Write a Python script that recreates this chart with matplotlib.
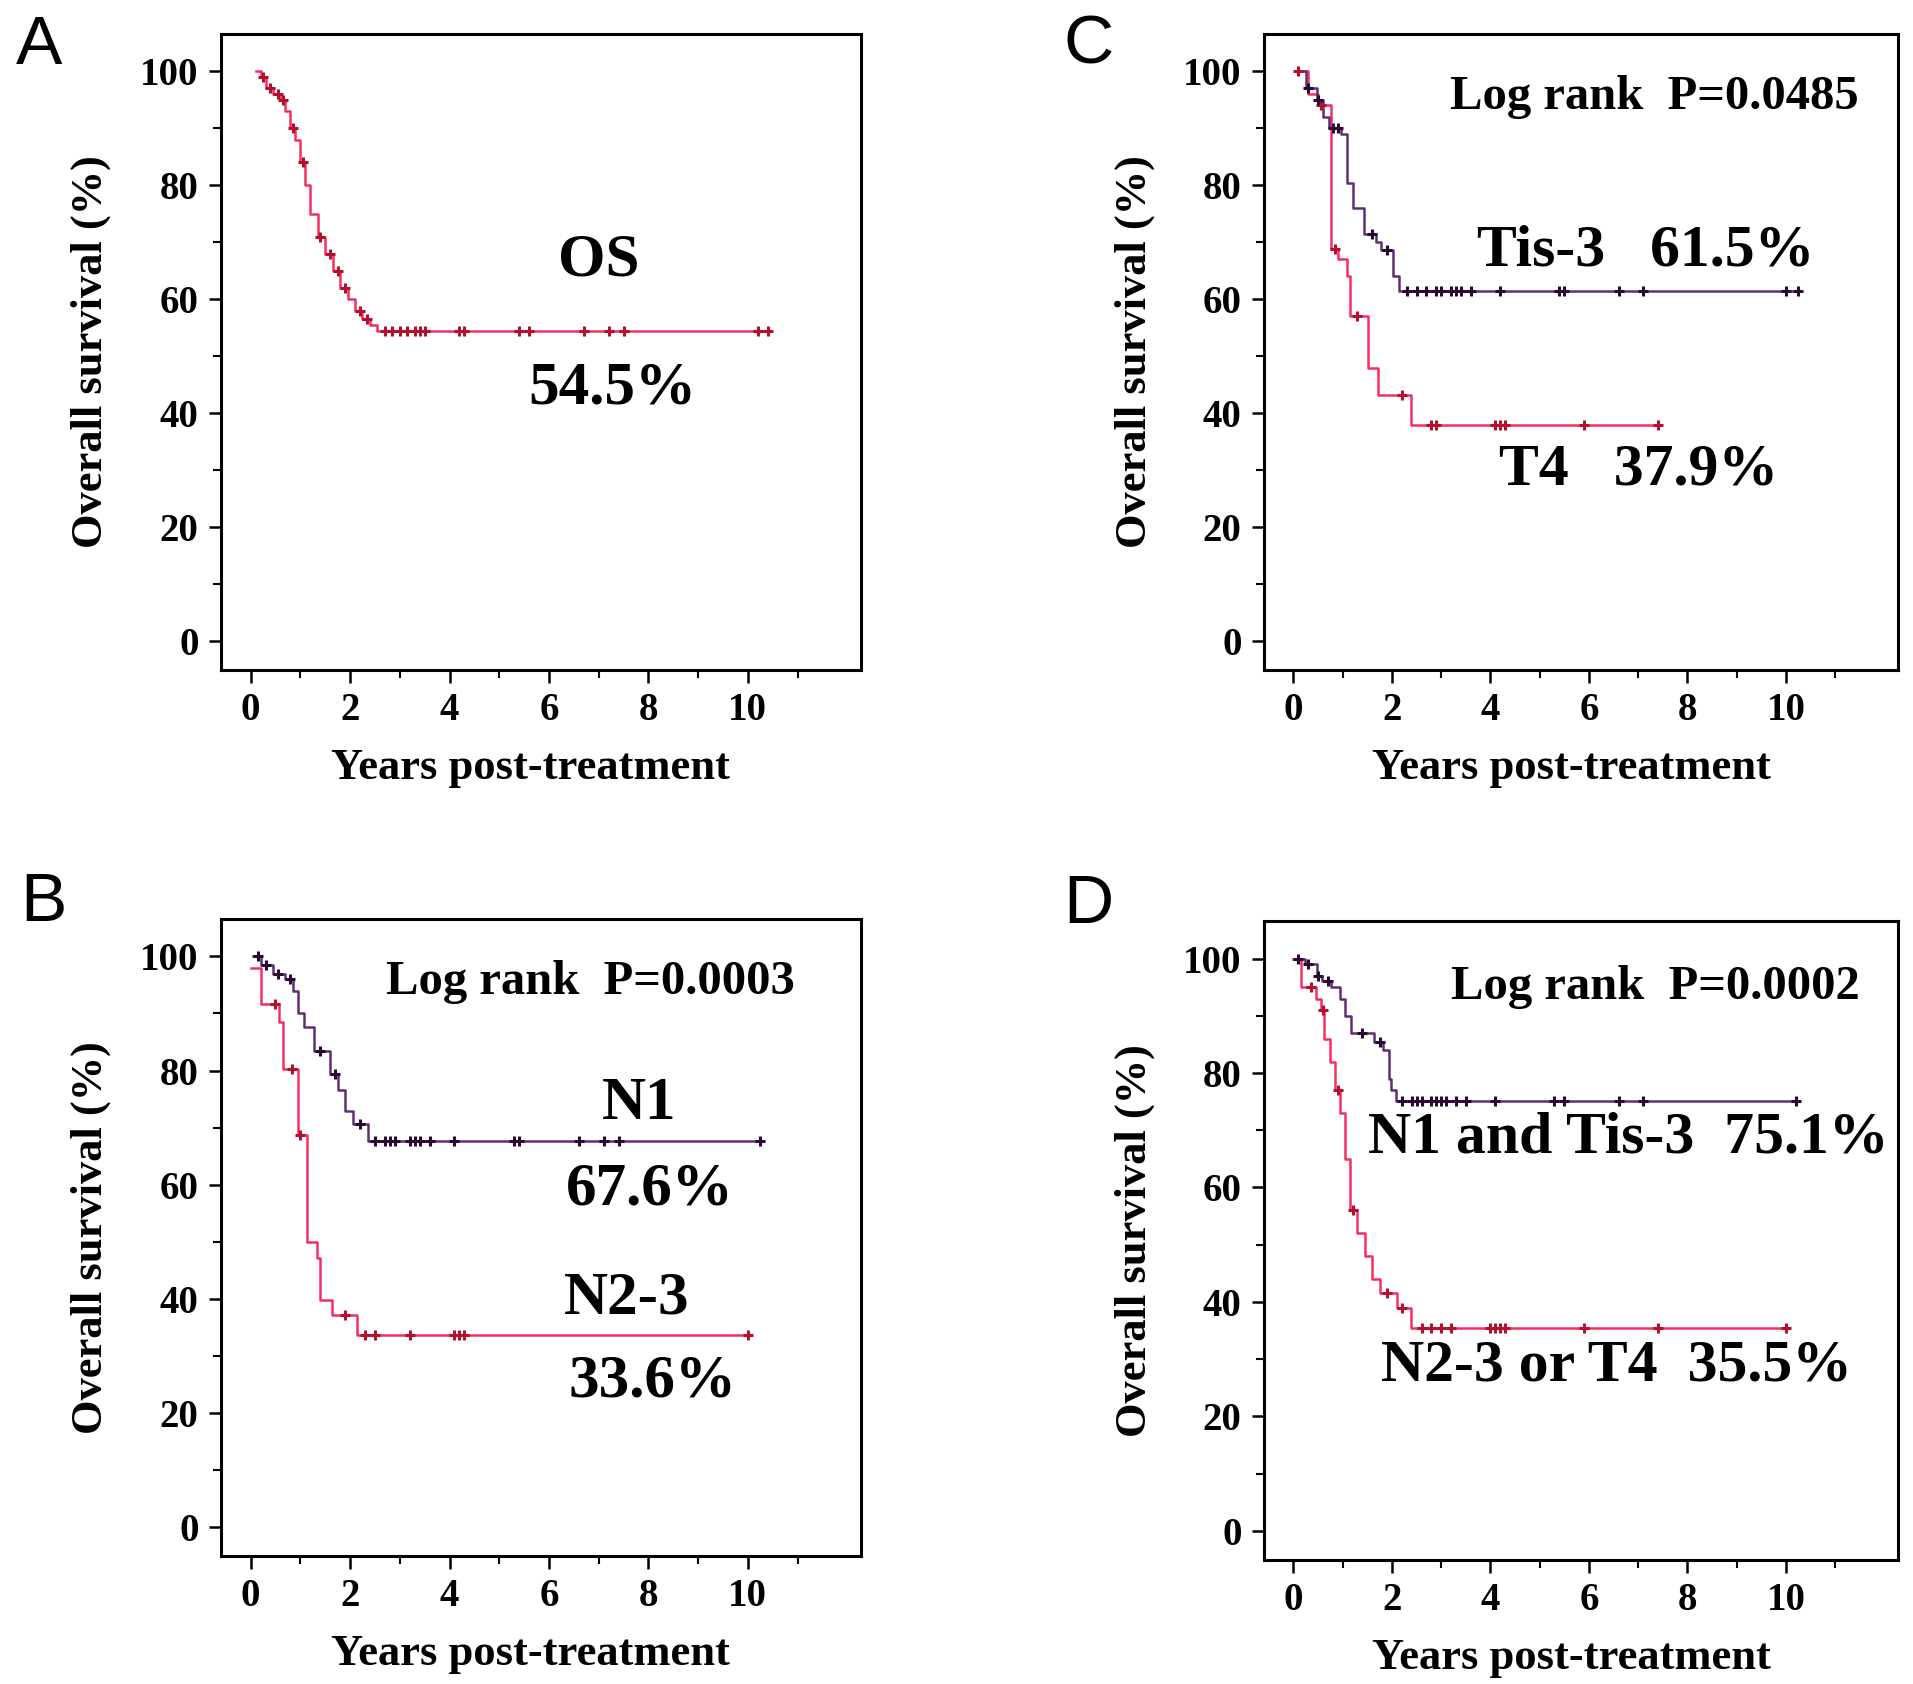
import matplotlib
matplotlib.use("Agg")
import matplotlib.pyplot as plt
import numpy as np
from matplotlib.ticker import MultipleLocator

plt.rcParams['font.family'] = ['Liberation Serif', 'DejaVu Serif']

# ---- data (years, survival %) ----
# A: overall survival
a_time = [0.1, 0.2, 0.3, 0.45, 0.6, 0.7, 0.8, 0.9, 1.0, 1.1, 1.2, 1.35, 1.5, 1.65, 1.8, 1.95, 2.1, 2.25, 2.4, 2.55, 10.4]
a_surv = [100, 99, 97, 96, 95, 93, 90, 88, 84, 80, 75, 71, 68, 65, 62, 60, 58, 56.5, 55.5, 54.5, 54.5]
a_cens = [0.25, 0.4, 0.55, 0.65, 0.85, 1.05, 1.4, 1.6, 1.75, 1.9, 2.2, 2.35, 2.7, 2.85, 3.0, 3.15, 3.3, 3.4, 3.5,
          4.2, 4.3, 5.4, 5.6, 6.7, 7.2, 7.5, 10.2, 10.4]

# B: N1 vs N2-3
b1_time = [0.05, 0.2, 0.45, 0.7, 0.85, 0.96, 1.08, 1.27, 1.6, 1.75, 1.9, 2.05, 2.37, 10.25]
b1_surv = [100, 98.5, 97, 96, 94, 90, 87.6, 83.5, 79.4, 76.6, 72.9, 70.6, 67.6, 67.6]
b1_cens = [0.15, 0.3, 0.55, 0.8, 1.4, 1.7, 2.2, 2.5, 2.7, 2.8, 2.9, 3.2, 3.3, 3.4, 3.6, 4.1, 5.3, 5.4, 6.6, 7.1, 7.4, 10.25]
b2_time = [0.0, 0.2, 0.57, 0.65, 0.96, 1.14, 1.33, 1.39, 1.64, 2.13, 10.0]
b2_surv = [98, 91.7, 88.5, 80.3, 68.8, 50, 47.2, 39.9, 37.2, 33.6, 33.6]
b2_cens = [0.5, 0.84, 1.0, 1.9, 2.3, 2.5, 3.2, 4.1, 4.2, 4.3, 10.0]

# C: Tis-3 vs T4
c1_time = [0.05, 0.25, 0.47, 0.6, 0.73, 0.96, 1.08, 1.2, 1.43, 1.67, 1.78, 2.02, 2.14, 10.25]
c1_surv = [100, 97, 95, 92, 90, 89, 80.4, 76, 71.4, 70, 68.7, 64, 61.5, 61.5]
c1_cens = [0.3, 0.5, 0.8, 0.9, 1.6, 1.9, 2.3, 2.5, 2.7, 2.9, 3.0, 3.2, 3.3, 3.4, 3.6, 4.2, 5.4, 5.5, 6.6, 7.1, 10.0, 10.25]
c2_time = [0.05, 0.3, 0.5, 0.76, 0.9, 1.08, 1.14, 1.51, 1.72, 2.39, 7.42]
c2_surv = [100, 96, 94, 68.75, 67, 64, 57, 48, 43.3, 37.9, 37.9]
c2_cens = [0.1, 0.55, 0.85, 1.3, 2.2, 2.8, 2.9, 4.1, 4.2, 4.3, 5.9, 7.4]

# D: N1 and Tis-3 vs N2-3 or T4
d1_time = [0.04, 0.23, 0.47, 0.58, 0.76, 0.94, 1.05, 1.17, 1.64, 1.81, 1.93, 1.99, 2.08, 10.23]
d1_surv = [100, 99, 97, 96, 95, 93, 90, 87, 85.5, 84, 79, 77, 75.1, 75.1]
d1_cens = [0.1, 0.3, 0.5, 0.7, 1.4, 1.75, 2.2, 2.4, 2.5, 2.6, 2.8, 2.9, 3.0, 3.1, 3.3, 3.5, 4.1, 5.3, 5.5, 6.6, 7.1, 10.2]
d2_time = [0.0, 0.15, 0.45, 0.55, 0.62, 0.75, 0.85, 0.95, 1.05, 1.15, 1.3, 1.45, 1.6, 1.75, 2.1, 2.38, 10.0]
d2_surv = [100, 95, 93, 91, 86, 82, 77, 73, 65, 56, 52, 48, 44, 41.5, 39, 35.5, 35.5]
d2_cens = [0.35, 0.6, 0.9, 1.2, 1.9, 2.2, 2.6, 2.8, 3.0, 3.2, 4.0, 4.1, 4.2, 4.3, 5.9, 7.4, 10.0]

RED = '#f72d62'
RED_M = '#b3102e'
PUR = '#5e2f72'
PUR_M = '#2a0a30'


def surv_at(times, surv, t):
    i = np.searchsorted(times, t, side='right') - 1
    i = min(max(i, 0), len(surv) - 1)
    return surv[i]


def draw_curve(ax, times, surv, cens, color, mcolor):
    ax.step(times, surv, where='post', color=color, lw=1.8, zorder=3)
    ys = [surv_at(times, surv, t) for t in cens]
    ax.plot(cens, ys, ls='none', marker='+', ms=7, mew=2.2, color=mcolor, zorder=4)


def style_axes(ax):
    ax.set_xlim(-0.6, 12.28)
    ax.set_ylim(-5, 106.5)
    ax.set_xticks([0, 2, 4, 6, 8, 10])
    ax.xaxis.set_minor_locator(plt.FixedLocator([1, 3, 5, 7, 9, 11]))
    ax.set_yticks([0, 20, 40, 60, 80, 100])
    ax.yaxis.set_minor_locator(plt.FixedLocator([10, 30, 50, 70, 90]))
    ax.tick_params(which='major', direction='out', length=9, width=1.8, labelsize=28, pad=7)
    ax.tick_params(which='minor', direction='out', length=6, width=1.5)
    for lab in ax.get_xticklabels() + ax.get_yticklabels():
        lab.set_fontweight('bold')
    for sp in ax.spines.values():
        sp.set_linewidth(2.2)
    ax.set_xlabel('Years post-treatment', fontsize=32, fontweight='bold', va='center')
    ax.xaxis.set_label_coords(0.484, -0.154)
    ax.set_ylabel('Overall survival (%)', fontsize=32, fontweight='bold', va='center')
    ax.yaxis.set_label_coords(-0.203, 0.5)


fig = plt.figure(figsize=(19.13, 16.84), dpi=100)
axA = fig.add_axes([0.1154, 0.6022, 0.3348, 0.3775])
axC = fig.add_axes([0.6607, 0.6022, 0.3316, 0.3775])
axB = fig.add_axes([0.1154, 0.0761, 0.3348, 0.3780])
axD = fig.add_axes([0.6607, 0.0739, 0.3316, 0.3790])

for ax in (axA, axB, axC, axD):
    style_axes(ax)

# A
draw_curve(axA, a_time, a_surv, a_cens, RED, RED_M)
axA.text(7.0, 66.8, 'OS', fontsize=44, fontweight='bold', ha='center', va='center')
axA.text(7.27, 44.3, '54.5%', fontsize=44, fontweight='bold', ha='center', va='center')

# B
draw_curve(axB, b2_time, b2_surv, b2_cens, RED, RED_M)
draw_curve(axB, b1_time, b1_surv, b1_cens, PUR, PUR_M)
axB.text(6.83, 95.5, 'Log rank  P=0.0003', fontsize=35, fontweight='bold', ha='center', va='center')
axB.text(7.81, 74.1, 'N1', fontsize=44, fontweight='bold', ha='center', va='center')
axB.text(8.03, 59.2, '67.6%', fontsize=44, fontweight='bold', ha='center', va='center')
axB.text(7.57, 40.0, 'N2-3', fontsize=44, fontweight='bold', ha='center', va='center')
axB.text(8.08, 25.6, '33.6%', fontsize=44, fontweight='bold', ha='center', va='center')

# C
draw_curve(axC, c2_time, c2_surv, c2_cens, RED, RED_M)
draw_curve(axC, c1_time, c1_surv, c1_cens, PUR, PUR_M)
axC.text(7.33, 95.5, 'Log rank  P=0.0485', fontsize=35, fontweight='bold', ha='center', va='center')
axC.text(7.16, 68.4, 'Tis-3   61.5%', fontsize=43, fontweight='bold', ha='center', va='center')
axC.text(7.0, 29.9, 'T4   37.9%', fontsize=43, fontweight='bold', ha='center', va='center')

# D
draw_curve(axD, d2_time, d2_surv, d2_cens, RED, RED_M)
draw_curve(axD, d1_time, d1_surv, d1_cens, PUR, PUR_M)
axD.text(7.35, 95.1, 'Log rank  P=0.0002', fontsize=35, fontweight='bold', ha='center', va='center')
axD.text(6.8, 68.6, 'N1 and Tis-3  75.1%', fontsize=43, fontweight='bold', ha='center', va='center')
axD.text(6.56, 28.8, 'N2-3 or T4  35.5%', fontsize=43, fontweight='bold', ha='center', va='center')

# panel letters
for letter, x, y in [('A', 0.0204, 0.9727), ('C', 0.569, 0.9727), ('B', 0.0225, 0.4638), ('D', 0.569, 0.4626)]:
    fig.text(x, y, letter, fontsize=50, family='Liberation Sans', ha='center', va='center')

fig.savefig('out.png', dpi=100)
